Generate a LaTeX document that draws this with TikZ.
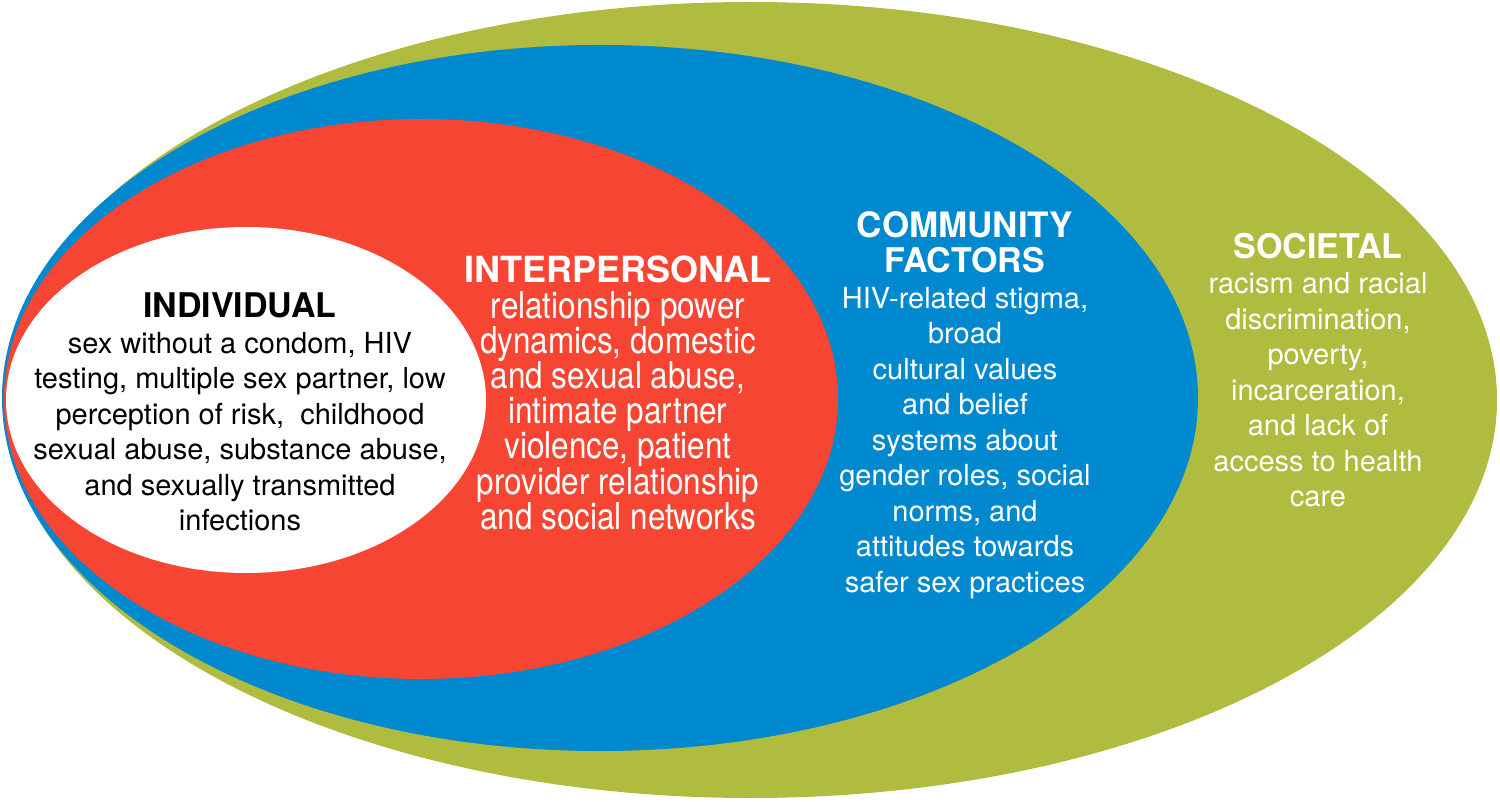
\documentclass[tikz,border=0pt]{standalone}
\usepackage{fontspec}
\setmainfont{TeX Gyre Heros}
\newfontfamily\narrowfont[FakeStretch=0.85]{TeX Gyre Heros}
\definecolor{socgreen}{RGB}{175,188,64}
\definecolor{comblue}{RGB}{0,137,207}
\definecolor{intred}{RGB}{246,70,51}
\begin{document}
\begin{tikzpicture}[x=0.5pt,y=-0.5pt,
  blocktxt/.style={align=center,inner sep=0pt},
  bodyA/.style={font=\fontsize{14.5}{17.75}\selectfont},
  bodyB/.style={font=\narrowfont\fontsize{18.5}{17.6}\selectfont},
]
\useasboundingbox (0,0) rectangle (1500,802);
% rings
\fill[socgreen] (750.5,400) ellipse [x radius=746.5, y radius=398];
\fill[comblue] (600,398) ellipse [x radius=598, y radius=353];
\fill[intred] (421,399) ellipse [x radius=417, y radius=280];
\fill[white] (246,400) ellipse [x radius=240, y radius=173];
% texts
\node[blocktxt,bodyA,text=black] (indiv) at (240,412)
  {{\fontsize{17}{17.75}\selectfont\bfseries INDIVIDUAL}\\
   sex without a condom, HIV\\
   testing, multiple sex partner, low\\
   perception of risk,~ childhood\\
   sexual abuse, substance abuse,\\
   and sexually transmitted\\
   infections};
\node[blocktxt,bodyB,text=white] (inter) at (618,393)
  {{\normalfont\fontsize{18}{17.6}\selectfont\bfseries INTERPERSONAL}\\
   relationship power\\
   dynamics, domestic\\
   and sexual abuse,\\
   intimate partner\\
   violence, patient\\
   provider relationship\\
   and social networks};
\node[blocktxt,bodyA,text=white] (comm) at (965,405)
  {{\fontsize{17.5}{17.75}\selectfont\bfseries COMMUNITY}\\
   {\fontsize{17}{17.75}\selectfont\bfseries FACTORS}\\
   HIV-related stigma,\\
   broad\\
   cultural values\\
   and belief\\
   systems about\\
   gender roles, social\\
   norms, and\\
   attitudes towards\\
   safer sex practices};
\node[blocktxt,bodyA,text=white] (soc) at (1318,370)
  {{\fontsize{17}{17.75}\selectfont\bfseries SOCIETAL}\\
   racism and racial\\
   discrimination,\\
   poverty,\\
   incarceration,\\
   and lack of\\
   access to health\\
   care};
\end{tikzpicture}
\end{document}
